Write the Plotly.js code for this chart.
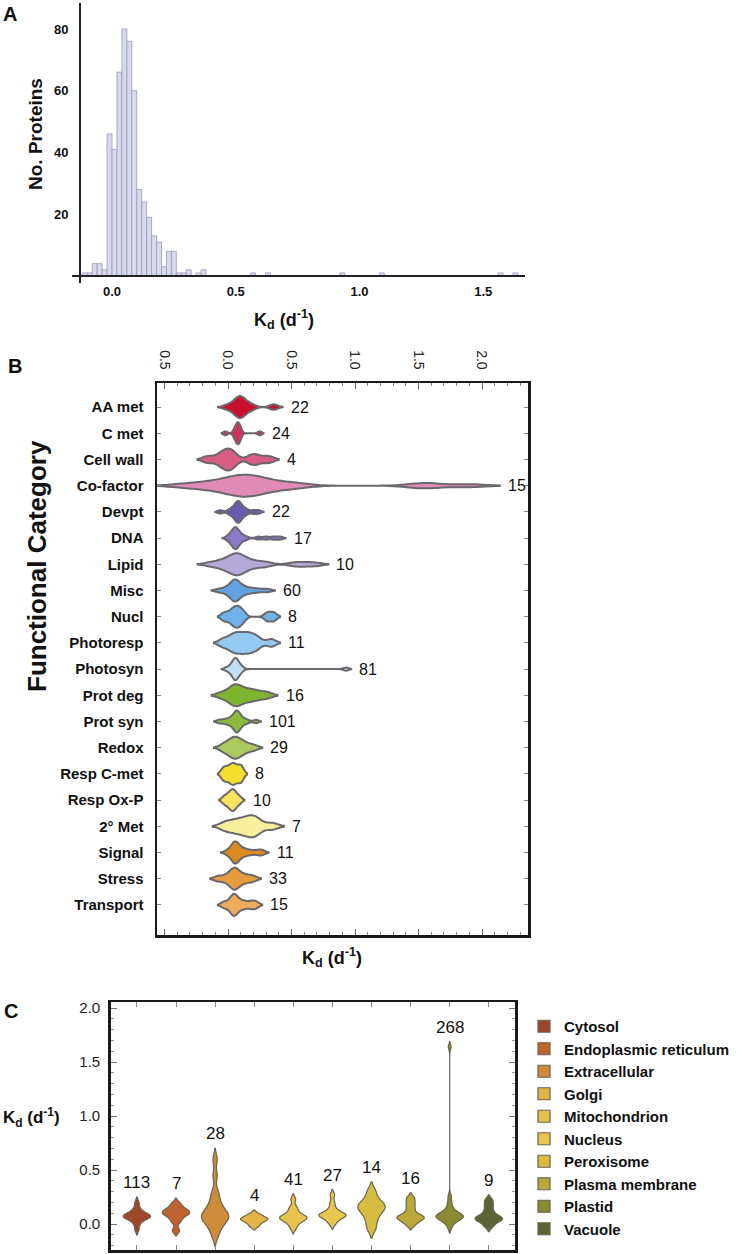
<!DOCTYPE html>
<html><head><meta charset="utf-8">
<script src="https://cdn.plot.ly/plotly-3.0.1.min.js"></script>
<style>html,body{margin:0;padding:0;background:#fff}#chart{width:738px;height:1254px}</style>
</head><body><div id="chart"></div>
<script>
// ---------- Panel A: histogram of Kd ----------
const histBinStart = [-0.12,-0.10,-0.08,-0.06,-0.04,-0.02,0.00,0.02,0.04,0.06,0.08,0.10,0.12,0.14,0.16,0.18,0.20,0.22,0.24,0.26,0.28,0.30,0.34,0.36,0.56,0.62,0.92,1.08,1.56,1.62];
const histCounts   = [1,1,4,4,2,46,41,66,80,76,60,28,24,19,13,11,3,8,8,1,1,2,1,2,1,1,1,1,1,1];
const histBinWidth = 0.02;

// ---------- Panel B: functional categories ----------
const funcCategories = ['AA met','C met','Cell wall','Co-factor','Devpt','DNA','Lipid','Misc','Nucl','Photoresp','Photosyn','Prot deg','Prot syn','Redox','Resp C-met','Resp Ox-P','2° Met','Signal','Stress','Transport'];
const funcCounts = [22,24,4,15,22,17,10,60,8,11,81,16,101,29,8,10,7,11,33,15];
const kdAAmet     = [-0.02,0.02,0.04,0.06,0.07,0.08,0.09,0.095,0.10,0.11,0.12,0.13,0.15,0.17,0.20,0.35,0.37];
const kdCmet      = [-0.02,0.05,0.06,0.07,0.075,0.08,0.085,0.09,0.10,0.25];
const kdCellWall  = [-0.16,-0.07,-0.03,0.0,0.02,0.05,0.18,0.23,0.32];
const kdCofactor  = [-0.35,-0.2,-0.1,-0.03,0.03,0.08,0.11,0.13,0.15,0.18,0.22,0.27,0.34,0.45,0.55,1.50,1.60,1.90];
const kdDevpt     = [-0.06,0.01,0.03,0.05,0.06,0.07,0.075,0.08,0.085,0.09,0.10,0.11,0.13,0.15,0.20,0.24];
const kdDNA       = [0.0,0.02,0.035,0.045,0.05,0.055,0.06,0.065,0.07,0.08,0.09,0.11,0.14,0.24,0.30,0.36,0.41];
const kdLipid     = [-0.14,-0.07,-0.03,0.0,0.03,0.05,0.06,0.07,0.08,0.10,0.12,0.15,0.19,0.25,0.31,0.52,0.60,0.69];
const kdMisc      = [-0.07,-0.02,0.01,0.03,0.04,0.05,0.055,0.06,0.07,0.08,0.10,0.12,0.15,0.19,0.24,0.31];
const kdNucl      = [-0.03,0.02,0.05,0.07,0.09,0.12,0.31,0.36];
const kdPhotoresp = [-0.04,0.02,0.05,0.08,0.11,0.14,0.17,0.20,0.24,0.34];
const kdPhotosyn  = [-0.01,0.02,0.035,0.045,0.05,0.055,0.06,0.065,0.07,0.08,0.09,0.11,0.93];
const kdProtDeg   = [-0.05,0.02,0.04,0.06,0.08,0.11,0.15,0.19,0.24,0.31];
const kdProtSyn   = [-0.07,-0.03,0.0,0.02,0.04,0.05,0.06,0.065,0.07,0.075,0.08,0.09,0.10,0.12,0.15,0.22];
const kdRedox     = [-0.04,0.0,0.03,0.05,0.06,0.08,0.11,0.14,0.20];
const kdRespCmet  = [-0.04,-0.01,0.02,0.04,0.06,0.09,0.11];
const kdRespOxP   = [-0.03,0.0,0.02,0.035,0.045,0.06,0.09];
const kd2Met      = [-0.03,0.03,0.08,0.12,0.16,0.19,0.21,0.25,0.35];
const kdSignal    = [-0.005,0.03,0.04,0.05,0.055,0.06,0.07,0.08,0.10,0.12,0.15,0.19,0.24,0.27];
const kdStress    = [-0.08,-0.02,0.02,0.04,0.05,0.06,0.08,0.11,0.15,0.20];
const kdTransport = [-0.03,0.02,0.04,0.05,0.06,0.09,0.13,0.18,0.22];
const funcBandwidth = [0.03,0.015,0.04,0.12,0.02,0.022,0.05,0.03,0.025,0.035,0.02,0.04,0.02,0.035,0.02,0.02,0.045,0.025,0.03,0.025];
const funcColors = ['#c8102e','#d42f5b','#d95c82','#e08bb6','#6a5aad','#8b78c6','#b4a8d8','#62a2e2','#72b2ea','#94caf2','#c3dff4','#7eb42e','#8cba3a','#abc95c','#f4df2e','#f5e45c','#f8ef9e','#df8a1f','#e89c40','#eeab5c'];

// ---------- Panel C: subcellular locations ----------
const locCategories = ['Cytosol','Endoplasmic reticulum','Extracellular','Golgi','Mitochondrion','Nucleus','Peroxisome','Plasma membrane','Plastid','Vacuole'];
const locCounts = [113,7,28,4,41,27,14,16,268,9];
const kdCytosol   = [-0.05,0.0,0.03,0.05,0.06,0.065,0.07,0.075,0.08,0.09,0.10,0.12,0.15,0.20];
const kdER        = [-0.06,0.02,0.06,0.09,0.10,0.11,0.13,0.15,0.19];
const kdExtracell = [-0.11,-0.05,-0.01,0.02,0.04,0.06,0.07,0.08,0.10,0.12,0.15,0.19,0.24,0.30,0.45,0.60];
const kdGolgi     = [-0.015,0.02,0.04,0.05,0.06,0.09];
const kdMito      = [-0.04,0.0,0.02,0.04,0.05,0.055,0.06,0.07,0.08,0.10,0.13,0.16,0.23];
const kdNucleus   = [0.0,0.03,0.05,0.07,0.075,0.08,0.085,0.09,0.10,0.12,0.15,0.20,0.27];
const kdPerox     = [-0.04,0.04,0.10,0.14,0.16,0.18,0.22,0.30];
const kdPM        = [-0.005,0.03,0.05,0.06,0.07,0.09,0.14,0.19,0.24];
const kdPlastid   = [-0.035,0.0,0.02,0.03,0.04,0.05,0.055,0.06,0.065,0.07,0.075,0.08,0.085,0.09,0.10,0.11,0.12,0.14,0.17,0.21,0.26,1.64];
const kdVacuole   = [-0.02,0.02,0.04,0.05,0.06,0.08,0.12,0.17,0.22];
const locBandwidth = [0.025,0.025,0.05,0.02,0.025,0.025,0.045,0.025,0.025,0.025];
const locColors = ['#a0472b','#c0632f','#cd8b3b','#e2b445','#e7c34b','#e8c74f','#d7bd3f','#b9a939','#888b2f','#5b6533'];

const funcSamples = [kdAAmet,kdCmet,kdCellWall,kdCofactor,kdDevpt,kdDNA,kdLipid,kdMisc,kdNucl,kdPhotoresp,kdPhotosyn,kdProtDeg,kdProtSyn,kdRedox,kdRespCmet,kdRespOxP,kd2Met,kdSignal,kdStress,kdTransport];
const locSamples = [kdCytosol,kdER,kdExtracell,kdGolgi,kdMito,kdNucleus,kdPerox,kdPM,kdPlastid,kdVacuole];

const FONT = 'Liberation Sans, Arial, sans-serif';
const W = 738, H = 1254;
const px = v => v / W, py = v => 1 - v / H;

const traces = [];
traces.push({
  type: 'bar', x: histBinStart, y: histCounts, width: histBinWidth, offset: 0,
  marker: {color: '#d7d9ef', line: {color: '#9c9cb0', width: 0.8}},
  xaxis: 'x', yaxis: 'y', showlegend: false, hoverinfo: 'skip'
});

const annotations = [];
funcCategories.forEach((c, i) => {
  traces.push({
    type: 'violin', orientation: 'h', x: funcSamples[i], y0: c, name: c,
    xaxis: 'x2', yaxis: 'y2', showlegend: false, hoverinfo: 'skip',
    bandwidth: funcBandwidth[i], spanmode: 'soft', scalemode: 'width', width: 0.84,
    points: false, box: {visible: false}, meanline: {visible: false},
    fillcolor: funcColors[i], line: {color: '#6b686d', width: 2}, opacity: 1
  });
  const tip = Math.max(...funcSamples[i]) + 2 * funcBandwidth[i];
  annotations.push({xref: 'x2', yref: 'y2', x: tip, y: c, text: String(funcCounts[i]),
    showarrow: false, xanchor: 'left', yanchor: 'middle', xshift: 6,
    font: {family: FONT, size: 16, color: '#111'}});
});

locCategories.forEach((c, i) => {
  traces.push({
    type: 'violin', orientation: 'v', y: locSamples[i], x0: c, name: c,
    legendgroup: c, xaxis: 'x3', yaxis: 'y3', showlegend: true, hoverinfo: 'skip',
    bandwidth: locBandwidth[i], spanmode: 'soft', scalemode: 'width', width: 0.7,
    points: false, box: {visible: false}, meanline: {visible: false},
    fillcolor: locColors[i], line: {color: '#6a634f', width: 1.2}, opacity: 1
  });
  const tip = Math.max(...locSamples[i]) + 2 * locBandwidth[i];
  annotations.push({xref: 'x3', yref: 'y3', x: c, y: tip, text: String(locCounts[i]),
    showarrow: false, xanchor: 'center', yanchor: 'bottom', yshift: 3,
    font: {family: FONT, size: 17, color: '#111'}});
});

const kdTitle = '<b>K<sub>d</sub> (d<sup>-1</sup>)</b>';
const paperAnn = (x, y, text, size, extra) => Object.assign({
  xref: 'paper', yref: 'paper', x: px(x), y: py(y), text, showarrow: false,
  xanchor: 'center', yanchor: 'middle', font: {family: FONT, size, color: '#111'}
}, extra || {});
annotations.push(
  paperAnn(10, 14, '<b>A</b>', 20),
  paperAnn(15, 366, '<b>B</b>', 20),
  paperAnn(11, 1011, '<b>C</b>', 20),
  paperAnn(35, 134, '<b>No. Proteins</b>', 19, {textangle: -90}),
  paperAnn(284, 320, kdTitle, 18),
  paperAnn(37, 566, '<b>Functional Category</b>', 26, {textangle: -90}),
  paperAnn(332, 958, kdTitle, 18),
  paperAnn(31, 1117, kdTitle, 17)
);

const layout = {
  width: W, height: H, margin: {l: 0, r: 0, t: 0, b: 0, autoexpand: false},
  paper_bgcolor: '#fff', plot_bgcolor: 'rgba(0,0,0,0)',
  font: {family: FONT, color: '#111'},
  violinmode: 'overlay', bargap: 0,
  // Panel A
  xaxis: {domain: [px(72), px(525)], range: [-0.1616, 1.6687], anchor: 'free', position: py(276),
    showline: true, linecolor: '#222', linewidth: 2, showgrid: false, zeroline: false,
    tick0: 0, dtick: 0.5, tickformat: '.1f', ticks: '', ticklabelstandoff: 3,
    tickfont: {family: FONT, size: 13, color: '#111', weight: 'bold'}},
  yaxis: {domain: [py(283), py(3)], range: [-2.27, 88.4], anchor: 'free', position: px(80),
    showline: true, linecolor: '#222', linewidth: 2, showgrid: false, zeroline: false,
    tickvals: [20, 40, 60, 80], ticks: '', ticklabelstandoff: 8,
    tickfont: {family: FONT, size: 13, color: '#111', weight: 'bold'}},
  // Panel B
  xaxis2: {domain: [px(157), px(528)], range: [-0.559, 2.362], anchor: 'y2', side: 'top',
    showline: true, linecolor: '#1a1a1a', linewidth: 2.5, mirror: 'allticks',
    showgrid: false, zeroline: false,
    tickvals: [-0.5, 0, 0.5, 1, 1.5, 2], ticktext: ['0.5', '0.0', '0.5', '1.0', '1.5', '2.0'],
    tickangle: 90, ticks: 'inside', ticklen: 6, tickcolor: '#666', tickwidth: 1, ticklabelstandoff: 6,
    minor: {tickmode: 'linear', tick0: 0, dtick: 0.1, ticks: 'inside', ticklen: 3, tickcolor: '#888', tickwidth: 1},
    tickfont: {family: FONT, size: 14, color: '#222'}},
  yaxis2: {domain: [py(935), py(383)], range: [20.15, -0.92], anchor: 'x2', type: 'category',
    categoryorder: 'array', categoryarray: funcCategories,
    showline: true, linecolor: '#1a1a1a', linewidth: 2.5, mirror: 'allticks',
    showgrid: false, zeroline: false, ticks: 'inside', ticklen: 4, tickcolor: '#888', ticklabelstandoff: 8,
    tickfont: {family: FONT, size: 15, color: '#111', weight: 'bold'}},
  // Panel C
  xaxis3: {domain: [px(110.7), px(515)], range: [-0.67, 9.67], anchor: 'y3', type: 'category',
    categoryorder: 'array', categoryarray: locCategories,
    showline: true, linecolor: '#1a1a1a', linewidth: 2.5, mirror: 'allticks',
    showgrid: false, zeroline: false, showticklabels: false, ticks: 'inside', ticklen: 5, tickcolor: '#888'},
  yaxis3: {domain: [py(1250), py(1002)], range: [-0.24, 2.056], anchor: 'x3',
    showline: true, linecolor: '#1a1a1a', linewidth: 2.5, mirror: 'allticks',
    showgrid: false, zeroline: false, tick0: 0, dtick: 0.5, tickformat: '.1f',
    ticks: 'inside', ticklen: 6, tickcolor: '#777', ticklabelstandoff: 5,
    minor: {tickmode: 'linear', tick0: 0, dtick: 0.1, ticks: 'inside', ticklen: 3, tickcolor: '#999'},
    tickfont: {family: FONT, size: 15, color: '#222'}},
  legend: {x: px(524), y: py(1010), xanchor: 'left', yanchor: 'top', tracegroupgap: 0,
    bgcolor: 'rgba(0,0,0,0)', font: {family: FONT, size: 15, color: '#111', weight: 'bold'}},
  annotations
};

Plotly.newPlot('chart', traces, layout, {staticPlot: true, displayModeBar: false});
</script>
</body></html>
